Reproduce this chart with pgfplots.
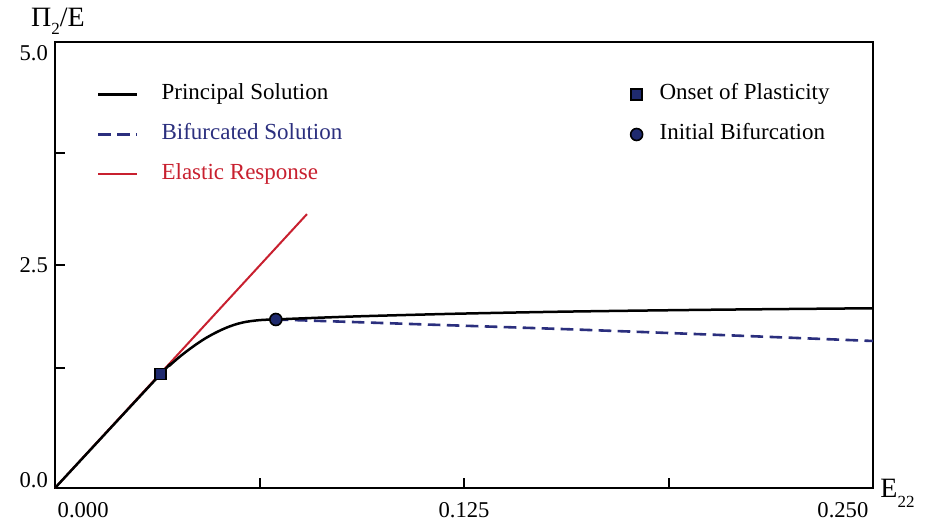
\documentclass[border=0pt]{standalone}
\usepackage{fontspec}
\setmainfont{Liberation Serif}
\usepackage{pgfplots}
\pgfplotsset{compat=1.18}
\definecolor{navy}{HTML}{2B2F7E}
\definecolor{ered}{HTML}{C8202F}
\definecolor{mfill}{HTML}{1F2A6E}
\pgfplotsset{
  common/.style={
    scale only axis, width=409pt, height=223pt,
    xmin=0, xmax=0.25, ymin=0, ymax=5,
    clip=false,
  },
  leg/.style={
    legend style={draw=none, fill=none, inner sep=0pt, outer sep=0pt,
      row sep=9.5pt,
      nodes={inner sep=0pt, text height=8pt, text depth=2.5pt,
        font=\fontsize{11.5}{13}\selectfont}},
    legend cell align=left,
  },
}
\begin{document}
\begin{tikzpicture}
\begin{axis}[common, leg,
  axis line style={line width=1.4pt},
  xtick pos=lower, ytick pos=left,
  tick align=inside, major tick length=5pt,
  tick style={line width=1pt, black},
  xtick={0.0625,0.125,0.1875}, xticklabels={,0.125,},
  ytick={1.35,2.5,3.75}, yticklabels={,2.5,},
  extra x ticks={0.0086,0.2408}, extra x tick labels={0.000,0.250},
  extra x tick style={major tick length=0pt},
  extra y ticks={0.084,4.88}, extra y tick labels={0.0,5.0},
  extra y tick style={major tick length=0pt},
  ticklabel style={font=\fontsize{11.3}{13}\selectfont},
  xticklabel style={anchor=base, yshift=-15pt},
  reverse legend,
  legend style={at={(rel axis cs:0.0513,0.9058)}, anchor=north west, column sep=11.5pt},
  legend image code/.code={\draw[#1] (0pt,0pt) -- (19.5pt,0pt);},
]
\coordinate (sw) at (rel axis cs:0,0);
\coordinate (ne) at (rel axis cs:1,1);
\addplot[ered, line width=1pt] coordinates {(0,0) (0.0770,3.07)};
\addlegendentry{\textcolor{ered}{Elastic Response}}
\addplot[navy, line width=1.3pt, dash pattern=on 6.3pt off 3.2pt] coordinates {
(0.0675,1.889) (0.090,1.862) (0.1125,1.834) (0.1350,1.807) (0.1574,1.779)
(0.180,1.748) (0.205,1.713) (0.230,1.677) (0.25,1.648)};
\addlegendentry{\textcolor{navy}{Bifurcated Solution}}
\addplot[black, line width=1.25pt, smooth] coordinates {
(0,0) (0.0323,1.278) (0.0350,1.372) (0.0380,1.468) (0.0408,1.548) (0.0433,1.614)
(0.0458,1.674) (0.0484,1.728) (0.0510,1.775) (0.0535,1.813) (0.0560,1.843)
(0.0586,1.864) (0.0612,1.877) (0.0637,1.885) (0.0675,1.890) (0.080,1.908)
(0.0932,1.925) (0.110,1.942) (0.1268,1.957) (0.1574,1.978) (0.200,1.998) (0.25,2.015)};
\addlegendentry{Principal Solution}
\node[anchor=base, inner sep=0pt, xshift=1.5pt, yshift=7.5pt, font=\fontsize{14}{16}\selectfont]
  at (rel axis cs:0,1) {Π\raisebox{-4pt}{\fontsize{8.5}{9}\selectfont 2}/E};
\node[anchor=base west, inner sep=0pt, xshift=3.5pt, yshift=-5pt, font=\fontsize{14}{16}\selectfont]
  at (rel axis cs:1,0) {E\raisebox{-5pt}{\fontsize{8.5}{9}\selectfont 22}};
\end{axis}
\begin{axis}[common, leg, hide axis,
  legend style={at={(rel axis cs:0.7037,0.9058)}, anchor=north west, column sep=8.5pt},
  legend image code/.code={\draw[#1] plot coordinates {(0pt,0pt)};},
]
\addplot[only marks, mark=square*, mark size=2.75pt,
  mark options={draw=black, fill=mfill, line width=0.8pt}] coordinates {(0.0323,1.278)};
\addlegendentry{Onset of Plasticity}
\addplot[only marks, mark=*, mark size=3pt,
  mark options={draw=black, fill=mfill, line width=0.8pt}] coordinates {(0.0675,1.889)};
\addlegendentry{Initial Bifurcation}
\end{axis}
\pgfresetboundingbox
\path[use as bounding box] ([xshift=-27.5pt,yshift=-17pt]sw) rectangle ([xshift=26.5pt,yshift=21pt]ne);
\end{tikzpicture}
\end{document}
